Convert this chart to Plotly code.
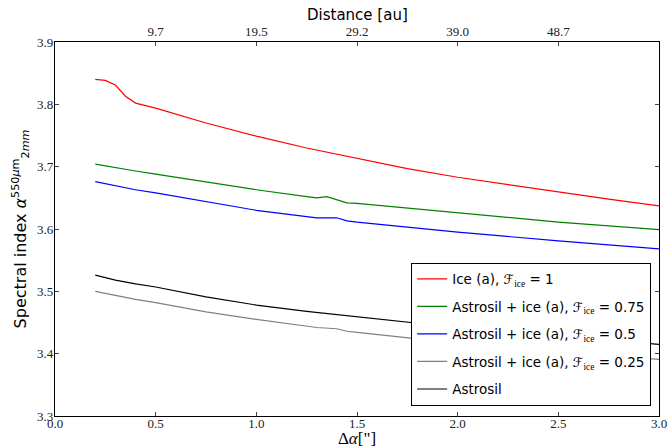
import plotly.graph_objects as go

# Data
x_ice = [0.2, 0.25, 0.3, 0.35, 0.4, 0.5, 0.75, 1.0, 1.25, 1.5, 1.75, 2.0, 2.25, 2.5, 2.75, 3.0]
y_ice = [3.840, 3.8385, 3.831, 3.813, 3.802, 3.794, 3.770, 3.749, 3.730, 3.713, 3.697, 3.683, 3.671, 3.659, 3.648, 3.637]

x_075 = [0.2, 0.3, 0.4, 0.5, 0.75, 1.0, 1.25, 1.3, 1.35, 1.45, 1.5, 2.0, 2.5, 3.0]
y_075 = [3.704, 3.698, 3.693, 3.688, 3.675, 3.663, 3.652, 3.650, 3.652, 3.642, 3.641, 3.626, 3.611, 3.599]

x_05 = [0.2, 0.3, 0.4, 0.5, 0.75, 1.0, 1.25, 1.3, 1.4, 1.45, 1.5, 2.0, 2.5, 3.0]
y_05 = [3.676, 3.669, 3.663, 3.658, 3.644, 3.630, 3.620, 3.618, 3.618, 3.613, 3.611, 3.595, 3.581, 3.568]

x_025 = [0.2, 0.3, 0.4, 0.5, 0.75, 1.0, 1.25, 1.3, 1.4, 1.45, 1.5, 1.75, 2.0, 2.5, 3.0]
y_025 = [3.500, 3.493, 3.487, 3.482, 3.467, 3.455, 3.444, 3.442, 3.440, 3.436, 3.434, 3.425, 3.417, 3.403, 3.391]

x_astro = [0.2, 0.3, 0.4, 0.5, 0.75, 1.0, 1.25, 1.5, 1.75, 2.0, 2.5, 3.0]
y_astro = [3.526, 3.518, 3.512, 3.507, 3.491, 3.478, 3.468, 3.459, 3.450, 3.442, 3.428, 3.415]

top_tickvals = [0.5, 1.0, 1.5, 2.0, 2.5]
top_ticktext = ["9.7", "19.5", "29.2", "39.0", "48.7"]
top_title = "Distance [au]"

F = "<i>ℱ</i><sub><span style='font-family:Liberation Serif'>ice</span></sub>"
names = [
    "Ice (a), " + F + " = 1",
    "Astrosil + ice (a), " + F + " = 0.75",
    "Astrosil + ice (a), " + F + " = 0.5",
    "Astrosil + ice (a), " + F + " = 0.25",
    "Astrosil",
]
colors = ["#ff0000", "#008000", "#0000ff", "#808080", "#000000"]
series = [(x_ice, y_ice), (x_075, y_075), (x_05, y_05), (x_025, y_025), (x_astro, y_astro)]

fig = go.Figure()
for i, ((xs, ys), nm, c) in enumerate(zip(series, names, colors)):
    fig.add_trace(go.Scatter(x=xs, y=ys, mode="lines", name=nm,
                             line=dict(color=c, width=1.2),
                             legendgroup="g%d" % i))

# invisible trace to activate top axis
fig.add_trace(go.Scatter(x=[0, 3], y=[3.3, 3.3], xaxis="x2", mode="lines",
                         line=dict(width=0), showlegend=False, hoverinfo="skip"))

tickfont = dict(family="Liberation Serif", size=13, color="#222")

fig.update_layout(
    width=672, height=448,
    margin=dict(l=55, r=13, t=42, b=32, autoexpand=False),
    paper_bgcolor="white", plot_bgcolor="white",
    xaxis=dict(range=[0, 3], dtick=0.5, tickformat=".1f", ticks="inside", ticklen=4,
               showline=True, linecolor="black", linewidth=1.3, showgrid=False, zeroline=False,
               tickfont=tickfont, automargin=False, ticklabelstandoff=-5,
               title=dict(text="Δ<i>α</i>[\"]", font=dict(family="Liberation Serif", size=17, color="black"), standoff=0)),
    xaxis2=dict(range=[0, 3], overlaying="x", side="top", tickvals=top_tickvals, ticktext=top_ticktext,
                ticks="inside", ticklen=4, showline=True, linecolor="black", linewidth=1.3,
                showgrid=False, zeroline=False, tickfont=tickfont, automargin=False),
    yaxis=dict(range=[3.3, 3.9], dtick=0.1, tickformat=".1f", ticks="inside", ticklen=4, mirror="ticks",
               showline=True, linecolor="black", linewidth=1.3, showgrid=False, zeroline=False,
               tickfont=tickfont, automargin=False, ticklabelstandoff=-2,
               title=dict(text="Spectral index <i>α</i><sup>550<i>μ</i>m</sup><sub>2<i>mm</i></sub>",
                          font=dict(family="DejaVu Sans", size=16, color="black"), standoff=6)),
    legend=dict(x=0.987, y=0.028, xanchor="right", yanchor="bottom",
                bgcolor="white", bordercolor="black", borderwidth=1,
                font=dict(family="DejaVu Sans", size=13.5, color="black"),
                tracegroupgap=7, itemwidth=30),
    annotations=[dict(text=top_title, xref="paper", yref="paper", x=0.5, y=1.072,
                      xanchor="center", yanchor="middle", showarrow=False,
                      font=dict(family="DejaVu Sans", size=15, color="black"))],
    showlegend=True,
)

fig.write_html("out.html", config={"displayModeBar": False},
               post_script="document.body.style.margin='0';")
